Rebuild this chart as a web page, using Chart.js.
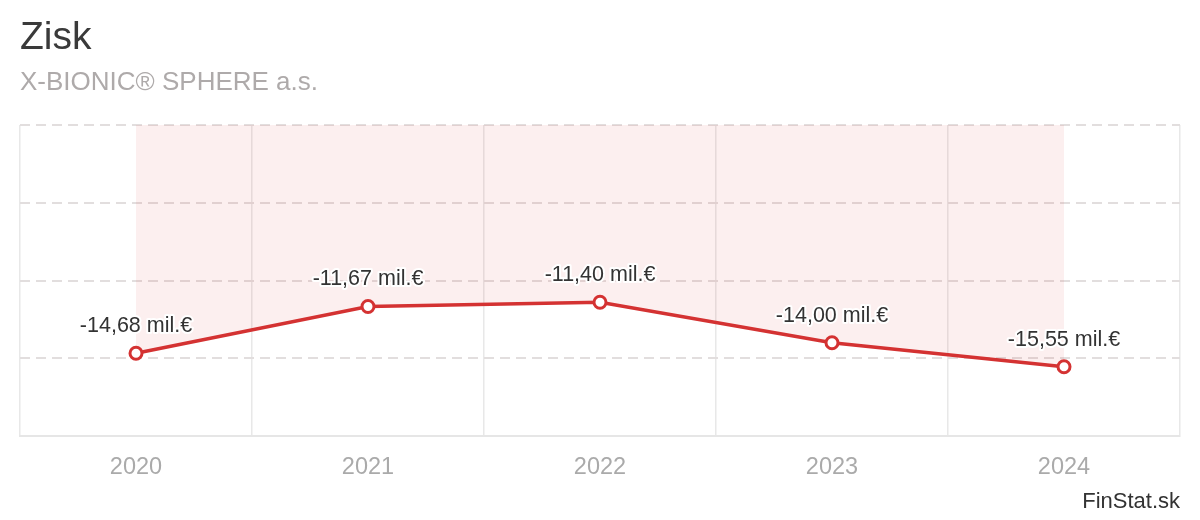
<!DOCTYPE html>
<html>
<head>
<meta charset="utf-8">
<script src="https://cdn.jsdelivr.net/npm/chart.js@4.4.1/dist/chart.umd.min.js"></script>
<style>
    html, body { margin: 0; padding: 0; background: #fff; }
    #wrap { position: relative; width: 1200px; height: 520px; }
</style>
</head>
<body>
<div id="wrap"><canvas id="line-chart"></canvas></div>
<script>
(function () {
    "use strict";

    // Data
    const years = ['2020', '2021', '2022', '2023', '2024'];
    const profit = [-14.68, -11.67, -11.40, -14.00, -15.55];
    const unit = ' mil.€';

    const FONT = "'Liberation Sans', Arial, sans-serif";
    const RED = '#d43232';

    // format -14.68 -> "-14,68 mil.€"
    function fmt(v) {
        return v.toFixed(2).replace('.', ',') + unit;
    }

    // Value labels above points
    const valueLabels = {
        id: 'valueLabels',
        afterDatasetsDraw(chart) {
            const ctx = chart.ctx;
            const meta = chart.getDatasetMeta(0);
            ctx.save();
            ctx.font = '21.5px ' + FONT;
            ctx.textAlign = 'center';
            ctx.textBaseline = 'alphabetic';
            ctx.lineJoin = 'round';
            meta.data.forEach(function (pt, i) {
                const txt = fmt(profit[i]);
                ctx.strokeStyle = '#fff';
                ctx.lineWidth = 4;
                ctx.strokeText(txt, pt.x, pt.y - 21);
                ctx.fillStyle = '#333';
                ctx.fillText(txt, pt.x, pt.y - 21);
            });
            ctx.restore();
        }
    };

    const ctx = document.getElementById('line-chart').getContext('2d');
    const chart = new Chart(ctx, {
        type: 'line',
        data: {
            labels: years,
            datasets: [{
                data: profit,
                borderColor: RED,
                borderWidth: 3.5,
                backgroundColor: 'rgba(211, 47, 47, 0.08)',
                fill: 'origin',
                tension: 0,
                pointRadius: 6,
                pointBorderWidth: 3,
                pointBackgroundColor: '#fff',
                pointBorderColor: RED
            }]
        },
        options: {
            responsive: true,
            maintainAspectRatio: false,
            animation: false,
            layout: { padding: { left: 20, right: 20, top: 0, bottom: 0 } },
            plugins: {
                legend: { display: false },
                tooltip: { enabled: false },
                title: {
                    display: true,
                    text: 'Zisk',
                    align: 'start',
                    color: '#3a3a3a',
                    font: { family: FONT, size: 39, weight: 'normal', lineHeight: 1.2 },
                    padding: { top: 15, bottom: 0 }
                },
                subtitle: {
                    display: true,
                    text: 'X-BIONIC® SPHERE a.s.',
                    align: 'start',
                    color: '#aeaaaa',
                    font: { family: FONT, size: 26, weight: 'normal', lineHeight: 1.2 },
                    padding: { top: 5.6, bottom: 26.4 }
                }
            },
            scales: {
                x: {
                    offset: true,
                    grid: { color: '#e8e8e8', lineWidth: 1.5, drawTicks: false, offset: true },
                    border: { display: true, color: '#e6e6e6', width: 2 },
                    ticks: {
                        color: '#aaaaaa',
                        padding: 17,
                        font: { family: FONT, size: 23.5, lineHeight: 1.2 }
                    },
                    title: {
                        display: true,
                        text: 'FinStat.sk',
                        align: 'end',
                        color: '#333',
                        font: { family: FONT, size: 22, lineHeight: 1.2 },
                        padding: { top: 0, bottom: 5 }
                    },
                    afterFit: function (scale) {
                        scale.height = 84;
                    }
                },
                y: {
                    min: -20,
                    max: 0,
                    ticks: { display: false, stepSize: 5 },
                    grid: { color: '#e2dede', lineWidth: 2, drawTicks: false },
                    border: { display: false, dash: [10, 6] }
                }
            }
        },
        plugins: [valueLabels]
    });
})();
</script>
</body>
</html>
